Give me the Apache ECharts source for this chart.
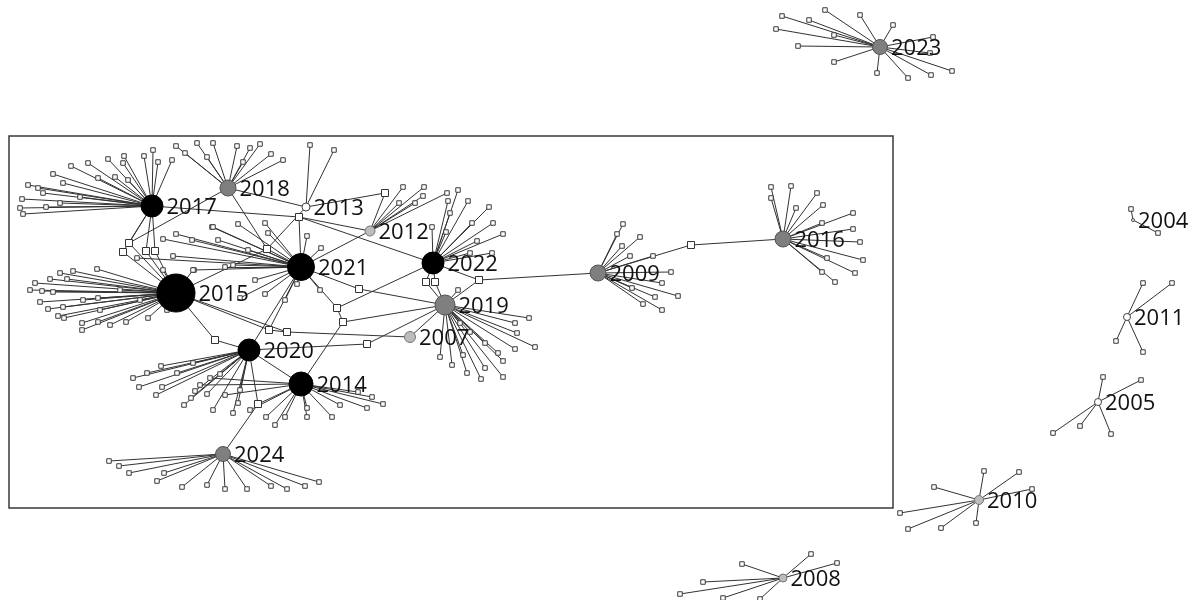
<!DOCTYPE html>
<html><head><meta charset="utf-8">
<script src="https://cdn.jsdelivr.net/npm/echarts@6/dist/echarts.min.js"></script>
<style>html,body{margin:0;padding:0;background:#fff}#c{width:1191px;height:600px}</style>
</head><body><div id="c"></div>
<script>
// ---- hubs (years) ----
const hubNames = ['2023','2017','2018','2013','2012','2021','2022','2015','2019','2009','2016','2007','2020','2014','2024','2004','2011','2005','2010','2008'];
const hubX = [880,152,228,306,370,301,433,176,445,598,783,410,249,301,223,1133,1127,1098,979,783];
const hubY = [47,206,188,207,231,267,263,293,305,273,239,337,350,384,454,220,317,402,500,578];
const hubWeight = [225,484,256,64,100,729,484,1444,400,256,256,121,484,576,225,9,49,49,81,64];
const hubGroup = [1,0,1,3,2,0,0,0,1,1,1,2,0,0,1,3,3,3,2,2];

// ---- leaf nodes of every hub ----
const leaves2023 = [[782,16],[809,20],[825,10],[860,15],[893,25],[776,29],[834,35],[798,46],[834,62],[877,73],[908,78],[931,75],[952,71],[933,37],[930,53]];
const leaves2017 = [[71,166],[88,163],[108,159],[124,156],[144,156],[123,163],[158,162],[172,160],[53,174],[63,183],[28,185],[43,193],[22,199],[20,208],[23,214],[46,207],[80,197],[98,178],[115,177],[128,180],[153,150],[38,188],[60,203]];
const leaves2018 = [[176,146],[197,143],[213,143],[237,146],[250,148],[260,144],[271,154],[283,160],[207,157],[243,162],[185,153]];
const leaves2013 = [[310,145],[334,150]];
const leaves2012 = [[403,187],[424,187],[423,196],[399,203],[415,203],[447,193]];
const leaves2021 = [[212,227],[238,224],[265,223],[268,233],[307,236],[321,248],[192,240],[218,240],[194,270],[225,267],[233,265],[265,294],[297,284],[240,298],[137,258],[163,239],[173,256],[176,234],[213,227],[248,250],[255,280],[320,290],[285,300]];
const leaves2022 = [[448,201],[468,201],[450,213],[472,223],[489,207],[493,223],[503,234],[477,241],[492,253],[470,253],[432,227],[446,232],[458,190]];
const leaves2015 = [[60,273],[73,271],[97,269],[50,279],[67,279],[35,283],[42,291],[53,292],[40,302],[48,309],[63,307],[58,316],[64,318],[82,323],[82,330],[98,322],[110,325],[126,322],[148,318],[100,310],[83,300],[98,298],[163,270],[193,270],[167,310],[30,290],[120,290],[140,300]];
const leaves2019 = [[529,318],[515,323],[535,347],[515,349],[498,353],[485,343],[503,361],[485,368],[503,377],[481,379],[467,373],[463,355],[452,365],[440,357],[470,332],[460,323],[517,333],[458,290]];
const leaves2009 = [[623,224],[617,234],[640,237],[622,246],[630,256],[671,272],[662,283],[655,297],[678,296],[643,304],[662,310],[632,288],[653,256]];
const leaves2016 = [[771,187],[791,186],[771,198],[817,193],[796,208],[823,205],[853,213],[822,223],[853,229],[860,242],[863,260],[855,273],[835,282],[822,272],[827,258]];
const leaves2007 = [];
const leaves2020 = [[161,366],[147,373],[133,378],[139,387],[162,387],[156,395],[177,373],[193,363],[220,374],[195,391],[191,398],[184,405],[213,410],[233,413],[238,403],[207,394],[240,390]];
const leaves2014 = [[372,397],[383,404],[367,408],[340,405],[332,417],[307,408],[307,417],[285,417],[266,417],[358,392],[210,378],[225,395],[250,410],[275,425],[200,385]];
const leaves2024 = [[109,461],[119,466],[129,473],[164,473],[157,481],[182,487],[207,485],[225,489],[247,489],[271,486],[287,489],[305,486],[319,482]];
const leaves2004 = [[1131,209],[1158,233]];
const leaves2011 = [[1143,283],[1172,283],[1116,341],[1143,352]];
const leaves2005 = [[1103,377],[1141,380],[1053,433],[1080,426],[1111,434]];
const leaves2010 = [[984,471],[1019,472],[1032,489],[934,487],[900,513],[908,529],[941,528],[976,523]];
const leaves2008 = [[742,564],[703,582],[680,594],[811,554],[837,563],[760,599],[723,598]];

// ---- bridging nodes between hubs ----
const connNames = ['c1','c2','c3','c4','c5','c6','c7','c8','c9','c10','c11','c12','c13','c14','c15','c16','c17','c18','c19'];
const connX = [129,123,146,155,215,267,299,385,359,337,343,269,287,367,426,435,479,691,258];
const connY = [243,252,251,251,340,249,217,193,289,308,322,330,332,344,282,282,280,245,404];

// ---- links between hubs / bridges ----
const linkSource = ['2017','c1','2017','c2','2017','c3','2017','c4','c1','2015','c5','2018','c6','c6','c6','2017','c7','c7','c7','2018','2012','c8','c8','2021','c9','2021','c10','c10','c11','c11','2015','c12','2015','c13','c12','2020','c14','2022','c15','2022','c16','2009','c17','c17','2009','c18','2020','2014','c19','2020','2021','2019'];
const linkTarget = ['c1','2015','c2','2015','c3','2015','c4','2015','2018','c5','2020','c6','2021','2013','2015','c7','2012','2021','2022','2013','2021','2013','2012','c9','2019','c10','2022','c11','2019','2014','c12','2021','c13','2007','c13','c14','2019','c15','2019','c16','2019','c17','2022','2019','c18','2016','c19','c19','2024','2014','2020','2007'];

const leafSets = {
  '2023':leaves2023,'2017':leaves2017,'2018':leaves2018,'2013':leaves2013,'2012':leaves2012,
  '2021':leaves2021,'2022':leaves2022,'2015':leaves2015,'2019':leaves2019,'2009':leaves2009,
  '2016':leaves2016,'2007':leaves2007,'2020':leaves2020,'2014':leaves2014,'2024':leaves2024,
  '2004':leaves2004,'2011':leaves2011,'2005':leaves2005,'2010':leaves2010,'2008':leaves2008
};

const groupFill = ['#000000','#7f7f7f','#bcbcbc','#ffffff'];
const groupBorder = ['#000000','#555555','#777777','#444444'];

const nodes = [];
const links = [];
hubNames.forEach(h => {
  (leafSets[h] || []).forEach((p, j) => {
    const nm = h + '_leaf' + j;
    nodes.push({name: nm, value: p, symbol: 'rect', symbolSize: 4.5,
      itemStyle: {color: '#fff', borderColor: '#3a3a3a', borderWidth: 1}});
    links.push({source: h, target: nm});
  });
});
connNames.forEach((c, i) => {
  nodes.push({name: c, value: [connX[i], connY[i]], symbol: 'rect', symbolSize: 7,
    itemStyle: {color: '#fff', borderColor: '#333', borderWidth: 1}});
});
linkSource.forEach((s, i) => links.push({source: s, target: linkTarget[i]}));
hubNames.forEach((h, i) => {
  const g = hubGroup[i];
  nodes.push({name: h, value: [hubX[i], hubY[i]], symbol: 'circle',
    symbolSize: Math.sqrt(hubWeight[i]),
    itemStyle: {color: groupFill[g], borderColor: groupBorder[g], borderWidth: 1},
    label: {show: true, position: 'right', distance: 3, offset: [0, 1.5], formatter: h,
      fontFamily: 'Open Sans', fontSize: 22, color: '#111'}});
});

const chart = echarts.init(document.getElementById('c'));
chart.setOption({
  animation: false,
  backgroundColor: '#fff',
  grid: [
    {left: 0, right: 0, top: 0, bottom: 0},
    {left: 9, top: 136, width: 884, height: 372, show: true, borderColor: '#3a3a3a', borderWidth: 1.5, backgroundColor: 'rgba(0,0,0,0)'}
  ],
  xAxis: [
    {type: 'value', min: 0, max: 1191, show: false, gridIndex: 0},
    {type: 'value', min: 0, max: 1, show: false, gridIndex: 1}
  ],
  yAxis: [
    {type: 'value', min: 0, max: 600, inverse: true, show: false, gridIndex: 0},
    {type: 'value', min: 0, max: 1, show: false, gridIndex: 1}
  ],
  series: [{
    type: 'graph',
    coordinateSystem: 'cartesian2d',
    xAxisIndex: 0, yAxisIndex: 0,
    silent: true,
    data: nodes,
    links: links,
    label: {show: false},
    lineStyle: {color: '#333333', width: 1, opacity: 1, curveness: 0},
    emphasis: {disabled: true}
  }]
});
</script></body></html>
